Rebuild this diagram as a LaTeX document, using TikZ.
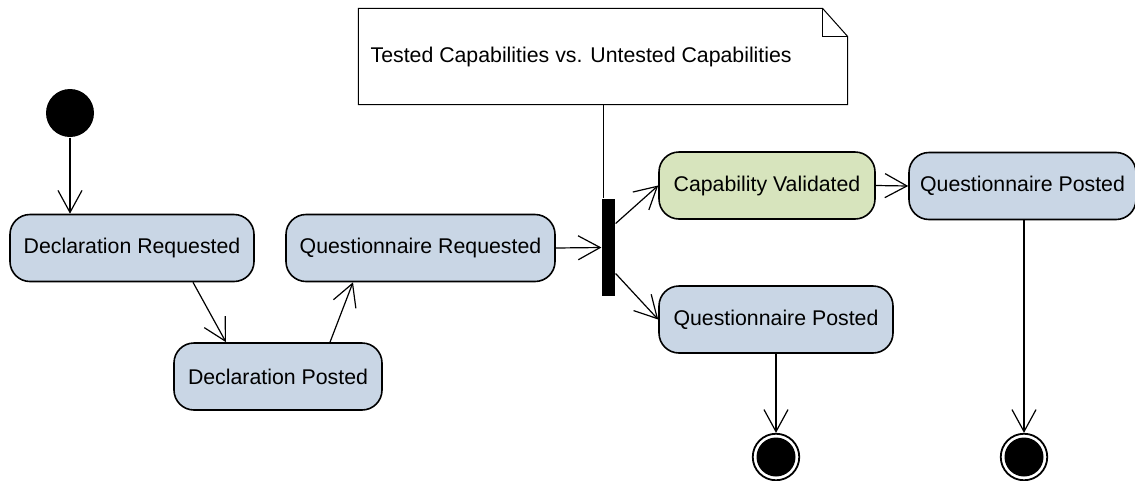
\documentclass[tikz,border=0pt]{standalone}
\usepackage{fontspec}
\setmainfont{Liberation Sans}
\usetikzlibrary{arrows.meta}
\definecolor{stblue}{RGB}{201,214,229}
\definecolor{stgreen}{RGB}{215,228,189}
\tikzstyle{st}=[shape=rectangle,
                rounded corners=20pt,
                draw=black,
                fill=stblue,
                line width=1.6pt,
                minimum height=67pt,
                font=\fontsize{21.3}{25}\selectfont]
\tikzstyle{init}=[shape=circle,
                fill=black,
                inner sep=0pt,
                minimum size=48pt]
\tikzstyle{fin}=[shape=circle,
                draw=black,
                fill=white,
                line width=1.8pt,
                inner sep=0pt,
                minimum size=46.5pt,
                path picture={\fill[black] (path picture bounding box.center) circle (19.5pt);}]
\tikzstyle{forkbar}=[shape=rectangle,
                fill=black,
                inner sep=0pt,
                minimum width=13pt,
                minimum height=97pt]
\tikzstyle{nt}=[shape=rectangle,
                inner sep=0pt,
                minimum width=488pt,
                minimum height=95pt]
\tikzstyle{lbl}=[inner sep=0pt,
                font=\fontsize{21.3}{25}\selectfont]

\begin{document}
\begin{tikzpicture}[>={Straight Barb[length=22pt,width=24pt]},line width=1.2pt,x=1pt,y=-1pt]
\useasboundingbox (0,0) rectangle (1135,480);

% note
\node[nt] (note) at (603,56.5) {};
\draw[line width=1pt] (note.north west) -- ([xshift=-25pt]note.north east) -- ([yshift=-28pt]note.north east) -- (note.south east) -- (note.south west) -- cycle;
\draw[line width=1pt] ([xshift=-25pt]note.north east) |- ([yshift=-28pt]note.north east);
\node[lbl,anchor=west] (notetext) at (370,57) {Tested Capabilities vs. Untested Capabilities};

% initial and final nodes
\node[init] (start) at (70,113) {};
\node[fin] (fin1) at (776,457) {};
\node[fin] (fin2) at (1024,457) {};

% fork
\node[forkbar] (fork) at (608.5,247.5) {};

% states
\node[st,minimum width=244pt] (dreq) at (132,248) {Declaration Requested};
\node[st,minimum width=208pt] (dpost) at (278,376.5) {Declaration Posted};
\node[st,minimum width=269pt] (qreq) at (420.5,248) {Questionnaire Requested};
\node[st,fill=stgreen,minimum width=216pt] (capval) at (767,185.5) {Capability Validated};
\node[st,minimum width=227pt] (qpost1) at (1022.5,186) {Questionnaire Posted};
\node[st,minimum width=234pt] (qpost2) at (776,319.5) {Questionnaire Posted};

% paths
\path[->] (start) edge (start |- dreq.north);
\path[->] ([xshift=61pt]dreq.south) edge ([xshift=-52pt]dpost.north);
\path[->] ([xshift=52pt]dpost.north) edge ([xshift=-67.5pt]qreq.south);
\path[->] (qreq.east) edge (fork.west);
\path[->] ([yshift=24pt]fork.east) edge (capval.west);
\path[->] ([yshift=-26pt]fork.east) edge (qpost2.west);
\path[->] (capval.east) edge (qpost1.west);
\path[->] (qpost2.south) edge (fin1.north);
\path[->] (qpost1.south -| fin2) edge (fin2.north);

% note link
\path[line width=0.9pt] (note.south) edge (note.south |- fork.north);

\end{tikzpicture}
\end{document}
